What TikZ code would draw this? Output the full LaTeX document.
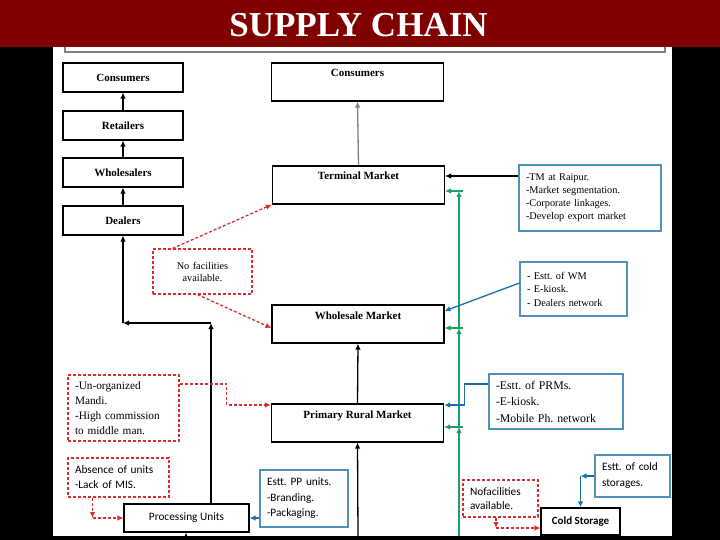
\documentclass[tikz,border=0pt]{standalone}
\usepackage{fontspec}
\setmainfont{Liberation Serif}
\newfontfamily\calfont{Carlito}
\usetikzlibrary{arrows.meta}
\definecolor{banner}{RGB}{128,0,0}
\definecolor{boxblue}{RGB}{80,145,185}
\definecolor{arrblue}{RGB}{30,110,170}
\definecolor{arrgreen}{RGB}{30,160,100}
\definecolor{dashred}{RGB}{220,45,45}
\frenchspacing

\begin{document}
\begin{tikzpicture}[x=1pt,y=-1pt,>={Latex[length=6pt,width=5.5pt]},
  box/.style={draw=black, line width=1.1pt, inner sep=0pt, fill=white},
  stage/.style={box, minimum width=120pt, minimum height=29pt, font=\fontsize{11}{12}\selectfont\bfseries},
  market/.style={box, minimum width=172pt, text height=11pt, text depth=21pt, inner sep=3pt, font=\fontsize{11}{12}\selectfont\bfseries},
  bnote/.style={draw=boxblue, line width=1.1pt, fill=white, align=left, inner xsep=7pt, inner ysep=0pt},
  rnote/.style={draw=dashred, dash pattern=on 3pt off 2pt, line width=1.1pt, fill=white, inner xsep=7pt, inner ysep=0pt},
  blk/.style={->, line width=1.3pt},
  gry/.style={->, draw=gray, line width=1.3pt},
  blu/.style={->, draw=arrblue, line width=1.3pt},
  grn/.style={->, draw=arrgreen, line width=1.3pt},
  rdd/.style={->, draw=dashred, dash pattern=on 3pt off 2pt, line width=1.3pt}]
\useasboundingbox (0,0) rectangle (720,540);
\fill [black] (0,0) rectangle (720,540);
\fill [white] (53,47) rectangle (672,536);
\draw [gray, line width=1.1pt] (65,20) rectangle (665,52);
\fill [banner] (0,0) rectangle (720,47);
\node (title) [white, font=\fontsize{35}{35}\selectfont\bfseries] at (358.5,25) {SUPPLY CHAIN};
\node (lcons) [stage] at (123,77.5) {Consumers};
\node (retail) [stage] at (123,125.5) {Retailers};
\node (whsl) [stage] at (123,172.5) {Wholesalers};
\node (dealer) [stage] at (123,220.5) {Dealers};
\node (cons) [market] at (357.5,82) {Consumers};
\node (term) [market] at (358.5,185) {Terminal Market};
\node (wsm) [market] at (358,324) {Wholesale Market};
\node (prm) [market] at (357.5,423) {Primary Rural Market};
\node (proc) [box, minimum width=125pt, minimum height=28pt, font=\calfont\fontsize{11.3}{13}\selectfont] at (186.5,518) {Processing Units};
\node (cold) [box, minimum width=79pt, minimum height=27pt, font=\calfont\fontsize{11}{12}\selectfont\bfseries] at (580.5,521.5) {Cold Storage};
\node (tmbox) [bnote, text width=128pt, minimum height=66pt, font=\fontsize{10.3}{13}\selectfont] at (590,198) {-TM at Raipur.\\-Market segmentation.\\-Corporate linkages.\\-Develop export market};
\node (wmbox) [bnote, text width=93pt, minimum height=54pt, font=\fontsize{10.3}{13.5}\selectfont] at (573.5,289) {- Estt. of WM\\- E-kiosk.\\- Dealers network};
\node (prmbox) [bnote, text width=120pt, minimum height=55pt, font=\fontsize{11.8}{16.5}\selectfont] at (556,401.5) {-Estt. of PRMs.\\-E-kiosk.\\-Mobile Ph. network};
\node (ppbox) [bnote, text width=74pt, minimum height=57pt, font=\calfont\fontsize{11.3}{15.5}\selectfont] at (304,498.5) {Estt. PP units.\\-Branding.\\-Packaging.};
\node (csbox) [bnote, text width=61pt, minimum height=42pt, font=\calfont\fontsize{11.3}{16}\selectfont] at (632.5,476) {Estt. of cold storages.};
\node (nf1) [rnote, align=center, text width=85pt, minimum height=45pt, font=\fontsize{10.3}{12}\selectfont] at (202.5,271.5) {No facilities\\available.};
\node (mandi) [rnote, align=left, text width=97pt, minimum height=66pt, font=\fontsize{11.3}{15}\selectfont] at (123.5,408) {-Un-organized\\Mandi.\\-High commission\\to middle man.};
\node (absence) [rnote, align=left, text width=87pt, minimum height=39pt, font=\calfont\fontsize{11.3}{15}\selectfont] at (118.5,477.5) {Absence of units\\-Lack of MIS.};
\node (nf2) [rnote, align=left, text width=61pt, minimum height=37pt, font=\calfont\fontsize{11.3}{14}\selectfont] at (500.5,498.5) {Nofacilities\\available.};
\draw [blk] (retail.north) -- (lcons.south);
\draw [blk] (whsl.north) -- (retail.south);
\draw [blk] (dealer.north) -- (whsl.south);
\coordinate (pj) at (211,323);
\coordinate (dj) at (123,323);
\draw [blk] (pj |- proc.north) -- (pj);
\draw [blk] (pj) -- (dj);
\draw [blk] (dj) -- (dealer.south);
\draw [gry] (term.north) -- (cons.south);
\draw [blk] (prm.north) -- (wsm.south);
\coordinate (b1) at (358,536);
\coordinate (b2) at (186,536);
\coordinate (b3) at (577,536);
\draw [blk] (b1) -- (prm.south);
\draw [blk] (b2) -- (b2 |- proc.south);
\draw [blk] (b3) -- (b3 |- cold.south);
\coordinate (g0) at (459,536);
\coordinate (gp) at (459,427);
\coordinate (gw) at (459,328);
\coordinate (gt) at (459,191);
\draw [grn] (g0) -- (gp);
\draw [grn] (gp) -- (gw);
\draw [grn] (gw) -- (gt);
\draw [grn] ([xshift=4pt]gt) -- (term.east |- gt);
\draw [grn] ([xshift=4pt]gw) -- (wsm.east |- gw);
\draw [grn] ([xshift=4pt]gp) -- (prm.east |- gp);
\draw [blk] ([yshift=22pt]tmbox.west) -- ([yshift=22pt]tmbox.west -| term.east);
\draw [blu] ([yshift=6pt]wmbox.west) -- ([yshift=13pt]wsm.east);
\draw [blu] ([yshift=17.5pt]prmbox.west) -- ++(-24,0) |- ([yshift=18pt]prm.east);
\draw [blu] (ppbox.west |- proc.east) -- (proc.east);
\coordinate (cj) at (cold.north |- csbox.west);
\draw [blu] (csbox.west) -- (cj);
\draw [blu] (cj) -- (cold.north);
\draw [rdd] ([xshift=-30pt]nf1.north) -- (term.south west);
\draw [rdd] ([xshift=-5pt]nf1.south) -- ([yshift=-4pt]wsm.west);
\draw [rdd] ([yshift=24pt]mandi.east) -- ++(47,0) |- ([yshift=18pt]prm.west);
\coordinate (aj) at ([xshift=-26pt]absence.south |- proc.west);
\draw [rdd] ([xshift=-26pt]absence.south) -- (aj);
\draw [rdd] (aj) -- (proc.west);
\coordinate (nj) at (496,528);
\draw [rdd] (nj |- nf2.south) -- (nj);
\draw [rdd] (nj) -- (nj -| cold.west);
\end{tikzpicture}
\end{document}
